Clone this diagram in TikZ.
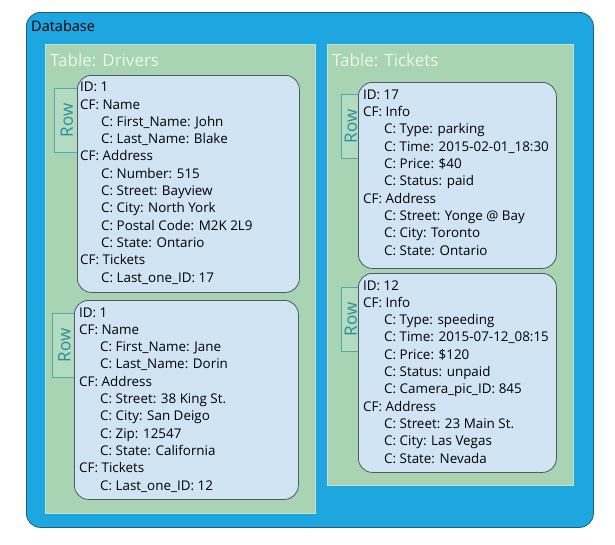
\documentclass[tikz,border=0pt]{standalone}
\usepackage{fontspec}
\setmainfont{Open Sans}
\definecolor{dbblue}{HTML}{1DA6E0}
\definecolor{dbedge}{HTML}{1B5E7E}
\definecolor{tgreen}{HTML}{A8D4B3}
\definecolor{tedge}{HTML}{C3E3CB}
\definecolor{rowfill}{HTML}{D1E4F4}
\definecolor{rowedge}{HTML}{4C5B66}
\definecolor{tabfill}{HTML}{B3DBC0}
\definecolor{tabedge}{HTML}{4FAAB3}
\definecolor{tabtext}{HTML}{2B8C9E}
\definecolor{ttitle}{HTML}{EEF5EF}
\tikzset{
  dbbox/.style={draw=dbedge, line width=0.8pt, fill=dbblue, rounded corners=14pt, anchor=north west, inner sep=0pt},
  tablebox/.style={draw=tedge, line width=0.8pt, fill=tgreen, anchor=north west, inner sep=0pt},
  rowbox/.style={draw=rowedge, line width=0.8pt, fill=rowfill, rounded corners=14pt, anchor=north west, inner sep=0pt},
  tabbox/.style={draw=tabedge, line width=0.6pt, fill=tabfill, anchor=north west, inner sep=0pt},
  tabtxt/.style={text=tabtext, font=\fontsize{17}{20}\selectfont, rotate=90, inner sep=0pt},
  dbtitle/.style={anchor=base west, inner sep=0pt, font=\fontsize{14.5}{17}\selectfont, text=black},
  tabletitle/.style={anchor=base west, inner sep=0pt, font=\fontsize{17}{20}\selectfont, text=ttitle},
  rowtext/.style={anchor=base west, inner sep=0pt, align=left, font=\fontsize{13.4}{17.3}\selectfont, text=black},
}
\newcommand{\ind}{\hspace*{21pt}}
\begin{document}
\begin{tikzpicture}[x=1pt,y=-1pt]
\useasboundingbox (0,0) rectangle (615,544);
% database
\node[dbbox, minimum width=567pt, minimum height=515pt] (db) at (26,12) {};
\node[dbtitle] (dbt) at (31,31) {Database};
% tables
\node[tablebox, minimum width=270pt, minimum height=469pt] (tdrv) at (45,44) {};
\node[tabletitle] (tdrvt) at (50,66) {Table: Drivers};
\node[tablebox, minimum width=246pt, minimum height=441pt] (ttik) at (327,44) {};
\node[tabletitle] (ttikt) at (332,66) {Table: Tickets};
% tabs
\node[tabbox, minimum width=23pt, minimum height=64pt] (tab1) at (54,88) {};
\node[tabtxt] (tab1t) at ([xshift=1pt]tab1.center) {Row};
\node[tabbox, minimum width=22pt, minimum height=64pt] (tab2) at (52,313) {};
\node[tabtxt] (tab2t) at ([xshift=1pt]tab2.center) {Row};
\node[tabbox, minimum width=17pt, minimum height=64pt] (tab3) at (341,94) {};
\node[tabtxt] (tab3t) at ([xshift=1pt]tab3.center) {Row};
\node[tabbox, minimum width=17pt, minimum height=64pt] (tab4) at (341,287) {};
\node[tabtxt] (tab4t) at ([xshift=1pt]tab4.center) {Row};
% rows
\node[rowbox, minimum width=222pt, minimum height=217pt] (r1) at (77,75) {};
\node[rowbox, minimum width=224pt, minimum height=199pt] (r2) at (74,300) {};
\node[rowbox, minimum width=198pt, minimum height=186pt] (r3) at (358,82) {};
\node[rowbox, minimum width=198pt, minimum height=199pt] (r4) at (358,273) {};
% row texts (anchored at the baseline of their last line)
\node[rowtext] (r1t) at (80,282) {ID: 1\\CF: Name\\\ind C: First\_Name: John\\\ind C: Last\_Name: Blake\\CF: Address\\\ind C: Number: 515\\\ind C: Street: Bayview\\\ind C: City: North York\\\ind C: Postal Code: M2K 2L9\\\ind C: State: Ontario\\CF: Tickets\\\ind C: Last\_one\_ID: 17};
\node[rowtext] (r2t) at (79,490) {ID: 1\\CF: Name\\\ind C: First\_Name: Jane\\\ind C: Last\_Name: Dorin\\CF: Address\\\ind C: Street: 38 King St.\\\ind C: City: San Deigo\\\ind C: Zip: 12547\\\ind C: State: California\\CF: Tickets\\\ind C: Last\_one\_ID: 12};
\node[rowtext] (r3t) at (363,255) {ID: 17\\CF: Info\\\ind C: Type: parking\\\ind C: Time: 2015-02-01\_18:30\\\ind C: Price: \$40\\\ind C: Status: paid\\CF: Address\\\ind C: Street: Yonge @ Bay\\\ind C: City: Toronto\\\ind C: State: Ontario};
\node[rowtext] (r4t) at (363,463) {ID: 12\\CF: Info\\\ind C: Type: speeding\\\ind C: Time: 2015-07-12\_08:15\\\ind C: Price: \$120\\\ind C: Status: unpaid\\\ind C: Camera\_pic\_ID: 845\\CF: Address\\\ind C: Street: 23 Main St.\\\ind C: City: Las Vegas\\\ind C: State: Nevada};
\end{tikzpicture}
\end{document}
